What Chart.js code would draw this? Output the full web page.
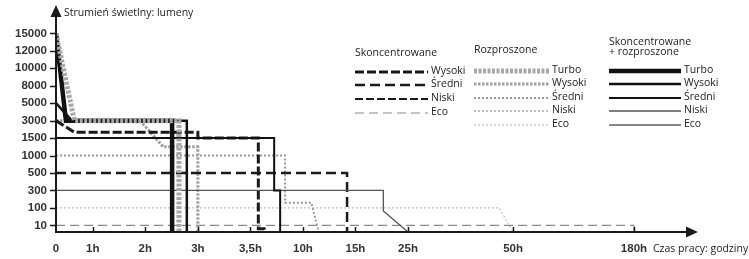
<!DOCTYPE html>
<html>
<head>
<meta charset="utf-8">
<script src="https://cdn.jsdelivr.net/npm/chart.js@4/dist/chart.umd.min.js"></script>
<style>
html, body { margin: 0; padding: 0; background: #fff; }
#wrap { width: 749px; height: 259px; }
</style>
</head>
<body>
<div id="wrap"><canvas id="chart" width="749" height="259"></canvas></div>
<script>
// tick values: both axes are stretched, one step per tick
const lumenTicks = [10, 100, 300, 500, 1000, 1500, 3000, 5000, 8000, 10000, 12000, 15000];
const hourTicks = [0, 1, 2, 3, 3.5, 10, 15, 25, 50, 180];
const hourLabels = ['0', '1h', '2h', '3h', '3,5h', '10h', '15h', '25h', '50h', '180h'];

// Skoncentrowane
const skWysokiH = [0, 0.5, 3, 3, 4.48, 4.48, 5.2, 5.2];
const skWysokiLm = [3000, 2000, 2000, 1500, 1500, 5, 5, 0];
const skSredniH = [0, 14.2, 14.2];
const skSredniLm = [500, 500, 0];
const skNiskiH = [0, 3];
const skNiskiLm = [1500, 1500];
const skEcoH = [0, 180, 180];
const skEcoLm = [10, 10, 0];

// Rozproszone
const rzTurboH = [0, 0.5, 2.64, 2.64];
const rzTurboLm = [15000, 3000, 3000, 0];
const rzWysokiH = [0, 1.9, 2.34, 3, 3];
const rzWysokiLm = [3000, 3000, 1250, 1250, 0];
const rzSredniH = [0, 7.79, 7.79, 10.8, 11.5];
const rzSredniLm = [1000, 1000, 160, 160, 0];
const rzNiskiH = [];
const rzNiskiLm = [];
const rzEcoH = [0, 46.7, 50];
const rzEcoLm = [100, 100, 0];

// Skoncentrowane + rozproszone
const srTurboH = [0, 0.27, 2.51, 2.51];
const srTurboLm = [15000, 3000, 3000, 0];
const srWysokiH = [0, 0.43, 2.79, 2.79];
const srWysokiLm = [5000, 3000, 3000, 0];
const srSredniH = [0, 6.44, 6.44, 7.18, 7.18];
const srSredniLm = [1500, 1500, 300, 300, 0];
const srNiskiH = [0, 20.3, 20.3, 25];
const srNiskiLm = [300, 300, 84, 0];
const srEcoH = [];
const srEcoLm = [];

// where each tick sits on the stretched axes
const hourSlots = [0, 0.7, 1.7, 2.7, 3.7, 4.7, 5.7, 6.7, 8.7, 11];
const lumenFrom = [0].concat(lumenTicks);
const lumenSlots = [-0.38].concat(lumenTicks.map((v, i) => i));

const piecewise = (v, from, to) => {
    for (let i = 1; i < from.length; i++) {
        if (v <= from[i]) {
            const t = (v - from[i - 1]) / (from[i] - from[i - 1]);
            return to[i - 1] + t * (to[i] - to[i - 1]);
        }
    }
    return to[to.length - 1];
};

const toPoints = (hours, lumens) => hours.map((h, i) => ({
    x: piecewise(h, hourTicks, hourSlots),
    y: piecewise(lumens[i], lumenFrom, lumenSlots),
}));

const makeLine = (label, group, hours, lumens, color, width, dash, order) => ({
    label,
    group,
    data: toPoints(hours, lumens),
    borderColor: color,
    borderWidth: width,
    borderDash: dash,
    borderCapStyle: 'butt',
    borderJoinStyle: 'miter',
    pointRadius: 0,
    tension: 0,
    fill: false,
    order,
});

const datasets = [
    makeLine('Wysoki', 0, skWysokiH, skWysokiLm, '#1a1a1a', 3, [9, 3], 2),
    makeLine('Średni', 0, skSredniH, skSredniLm, '#1a1a1a', 2.5, [10, 5], 2),
    makeLine('Niski', 0, skNiskiH, skNiskiLm, '#1a1a1a', 1.8, [8, 3], 2),
    makeLine('Eco', 0, skEcoH, skEcoLm, '#8a8a8a', 1.2, [9, 5], 2),
    makeLine('Turbo', 1, rzTurboH, rzTurboLm, '#a8a8a8', 5, [3, 1.5], 0),
    makeLine('Wysoki', 1, rzWysokiH, rzWysokiLm, '#a0a0a0', 3, [2.5, 1.5], 3),
    makeLine('Średni', 1, rzSredniH, rzSredniLm, '#9a9a9a', 2, [2, 2], 3),
    makeLine('Niski', 1, rzNiskiH, rzNiskiLm, '#aaaaaa', 1.5, [2, 2], 3),
    makeLine('Eco', 1, rzEcoH, rzEcoLm, '#c0c0c0', 1.2, [2, 2], 3),
    makeLine('Turbo', 2, srTurboH, srTurboLm, '#111111', 4.5, [], 1),
    makeLine('Wysoki', 2, srWysokiH, srWysokiLm, '#111111', 2.5, [], 1),
    makeLine('Średni', 2, srSredniH, srSredniLm, '#111111', 2, [], 1),
    makeLine('Niski', 2, srNiskiH, srNiskiLm, '#555555', 1.3, [], 1),
    makeLine('Eco', 2, srEcoH, srEcoLm, '#111111', 1, [], 1),
];

const legendGroups = [
    { title: ['Skoncentrowane'], titleY: 53, x0: 355, x1: 428, rows: [71, 84, 98, 112] },
    { title: ['Rozproszone'], titleY: 50, x0: 474, x1: 549, rows: [70, 83, 97, 110, 124] },
    { title: ['Skoncentrowane', '+ rozproszone'], titleY: 42, x0: 609, x1: 681, rows: [70, 83, 97, 110, 124] },
];

const textFont = "10.5px 'Open Sans'";
const tickFont = { family: "'Liberation Sans', Arial, sans-serif", size: 11.5, weight: 'bold' };

const axesPlugin = {
    id: 'axesArrows',
    afterDatasetsDraw(chart) {
        const { ctx, chartArea, scales } = chart;
        const x0 = chartArea.left;
        const y0 = chartArea.bottom;
        ctx.save();
        ctx.strokeStyle = '#1a1a1a';
        ctx.fillStyle = '#1a1a1a';
        ctx.lineWidth = 2;
        ctx.beginPath();
        ctx.moveTo(x0, y0 + 1);
        ctx.lineTo(x0, 15);
        ctx.moveTo(x0 - 1, y0);
        ctx.lineTo(688, y0);
        ctx.stroke();
        ctx.beginPath();
        ctx.moveTo(x0, 5);
        ctx.lineTo(x0 - 5.5, 17);
        ctx.lineTo(x0 + 5.5, 17);
        ctx.closePath();
        ctx.fill();
        ctx.beginPath();
        ctx.moveTo(698, y0);
        ctx.lineTo(686, y0 - 5.5);
        ctx.lineTo(686, y0 + 5.5);
        ctx.closePath();
        ctx.fill();

        ctx.lineWidth = 1.5;
        ctx.beginPath();
        lumenTicks.forEach((v, i) => {
            const y = Math.round(scales.y.getPixelForValue(i)) + 0.5;
            ctx.moveTo(x0 - 6, y);
            ctx.lineTo(x0, y);
        });
        hourSlots.slice(1).forEach((s) => {
            const x = Math.round(scales.x.getPixelForValue(s)) + 0.5;
            ctx.moveTo(x, y0);
            ctx.lineTo(x, y0 - 5);
        });
        ctx.stroke();

        ctx.font = textFont;
        ctx.fillStyle = '#222';
        ctx.textBaseline = 'middle';
        ctx.textAlign = 'left';
        ctx.fillText('Strumień świetlny: lumeny', 64, 13);
        ctx.fillText('Czas pracy: godziny', 653, 249);
        ctx.restore();
    },
    afterDraw(chart) {
        const { ctx } = chart;
        ctx.save();
        ctx.font = textFont;
        ctx.fillStyle = '#222';
        ctx.textAlign = 'left';
        ctx.textBaseline = 'middle';
        legendGroups.forEach((g, gi) => {
            g.title.forEach((t, k) => ctx.fillText(t, g.x0, g.titleY + k * 10));
            const members = chart.data.datasets.filter((d) => d.group === gi);
            members.forEach((d, k) => {
                const y = g.rows[k];
                ctx.save();
                ctx.strokeStyle = d.borderColor;
                ctx.lineWidth = d.borderWidth;
                ctx.setLineDash(d.borderDash);
                ctx.beginPath();
                ctx.moveTo(g.x0, y + 1);
                ctx.lineTo(g.x1, y + 1);
                ctx.stroke();
                ctx.restore();
                ctx.fillText(d.label, g.x1 + 3, y);
            });
        });
        ctx.restore();
    },
};

new Chart(document.getElementById('chart'), {
    type: 'line',
    data: { datasets },
    options: {
        responsive: false,
        animation: false,
        devicePixelRatio: 1,
        layout: { padding: { top: 5, right: 52, left: 0, bottom: 0 } },
        plugins: {
            legend: { display: false },
            tooltip: { enabled: false },
        },
        scales: {
            x: {
                type: 'linear',
                min: 0,
                max: 12.2,
                afterFit: (scale) => { scale.height = 27; },
                afterBuildTicks: (scale) => { scale.ticks = hourSlots.map((v) => ({ value: v })); },
                grid: { display: false, drawTicks: false },
                border: { display: false },
                ticks: {
                    autoSkip: false,
                    maxRotation: 0,
                    padding: 10,
                    color: '#333',
                    font: tickFont,
                    callback: (value) => hourLabels[hourSlots.indexOf(value)],
                },
            },
            y: {
                type: 'linear',
                min: -0.38,
                max: 12,
                afterFit: (scale) => { scale.width = 56; },
                afterBuildTicks: (scale) => { scale.ticks = lumenTicks.map((v, i) => ({ value: i })); },
                grid: { display: false, drawTicks: false },
                border: { display: false },
                ticks: {
                    autoSkip: false,
                    padding: 9,
                    color: '#333',
                    font: tickFont,
                    callback: (value) => lumenTicks[Math.round(value)],
                },
            },
        },
    },
    plugins: [axesPlugin],
});
</script>
</body>
</html>
